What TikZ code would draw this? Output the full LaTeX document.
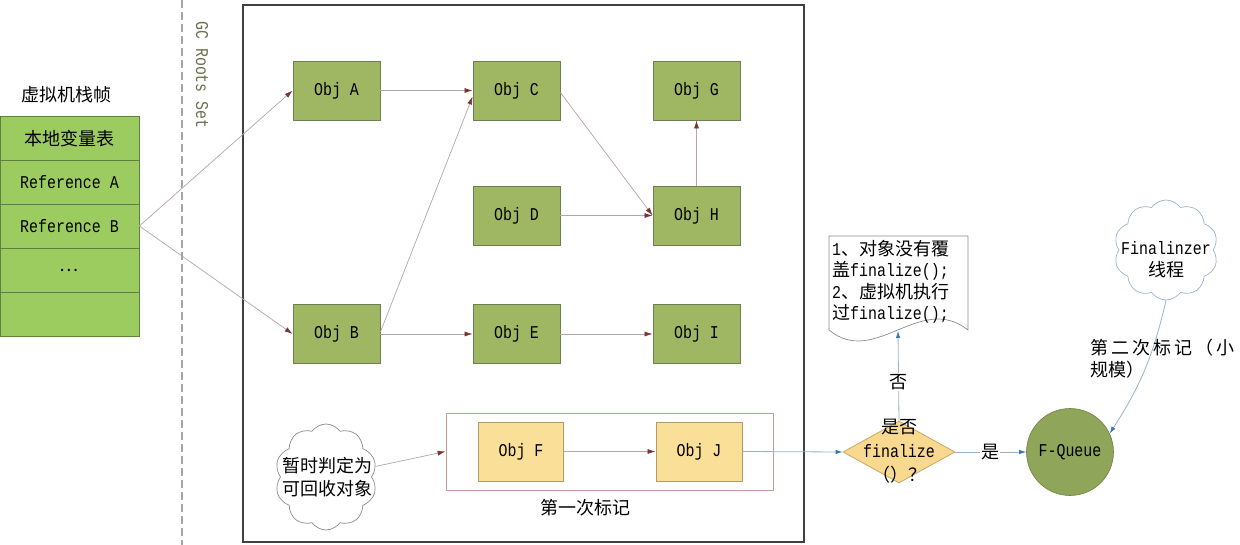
\documentclass[tikz,border=0pt]{standalone}
\usepackage{fontspec}
\setmainfont[FakeStretch=0.83]{Liberation Mono}
\newfontfamily\cjk{Noto Sans CJK SC}
\newcommand\zh[1]{{\cjk #1}}
\usetikzlibrary{shapes.geometric,shapes.symbols,arrows.meta}
\definecolor{stackgreen}{RGB}{156,204,96}
\definecolor{stackborder}{RGB}{95,127,63}
\definecolor{objgreen}{RGB}{159,183,98}
\definecolor{objborder}{RGB}{110,127,82}
\definecolor{yfill}{RGB}{250,223,153}
\definecolor{yborder}{RGB}{176,154,106}
\definecolor{dfill}{RGB}{249,217,143}
\definecolor{dborder}{RGB}{200,168,106}
\definecolor{fqfill}{RGB}{143,165,90}
\definecolor{fqborder}{RGB}{111,128,64}
\definecolor{redbox}{RGB}{201,154,154}
\definecolor{linegray}{RGB}{181,165,165}
\definecolor{arrowred}{RGB}{122,53,53}
\definecolor{blueline}{RGB}{152,178,207}
\definecolor{bluetip}{RGB}{58,117,181}
\definecolor{mainborder}{RGB}{64,64,64}
\definecolor{dashcol}{RGB}{166,166,166}
\definecolor{gctext}{RGB}{110,110,80}
\definecolor{cloudgray}{RGB}{140,140,140}
\definecolor{cloudblue}{RGB}{157,179,203}
\begin{document}
\begin{tikzpicture}[x=1pt,y=-1pt,
  every node/.append style={font=\fontsize{18}{20}\selectfont, text=black},
  cell/.style={draw=stackborder, fill=stackgreen, minimum width=139pt, minimum height=44pt, inner sep=0pt, line width=0.8pt},
  objbox/.style={draw=objborder, fill=objgreen, minimum width=87pt, minimum height=59pt, inner sep=0pt, line width=0.8pt},
  ybox/.style={draw=yborder, fill=yfill, minimum width=85pt, minimum height=59pt, inner sep=0pt, line width=0.8pt},
  redarrow/.style={draw=linegray, line width=0.7pt, -{Latex[length=8pt,width=5pt,color=arrowred]}},
  bluearrow/.style={draw=blueline, line width=0.8pt, -{Latex[length=7pt,width=4.5pt,color=bluetip]}},
  lbl/.style={fill=white, inner sep=1pt},
  cloudshape/.style={cloud, cloud puffs=10, cloud puff arc=110, inner sep=0pt, fill=white, line width=0.7pt}
]
\useasboundingbox (0,0) rectangle (1240,545);

% stack frame
\node (title) at (66,95) {\zh{虚拟机栈帧}};
\node[cell] (s1) at (69.5,138.5) {\zh{本地变量表}};
\node[cell] (s2) at (69.5,182) {Reference A};
\node[cell] (s3) at (69.5,226) {Reference B};
\node[cell] (s4) at (69.5,270) {\zh{…}};
\node[cell] (s5) at (69.5,314) {};

% GC roots divider
\coordinate (dtop) at (182,0);
\coordinate (dbot) at (182,545);
\draw[dashcol, line width=1.5pt, dash pattern=on 8pt off 4pt] (dtop) -- (dbot);
\node[rotate=-90, text=gctext] (gc) at (202,75) {GC Roots Set};

% main box
\node[draw=mainborder, line width=1.2pt, minimum width=561pt, minimum height=537pt, inner sep=0pt] (main) at (523.5,273.5) {};

% objects
\node[objbox] (A) at (336.5,90.5) {Obj A};
\node[objbox] (B) at (336.5,334) {Obj B};
\node[objbox] (C) at (516.5,90.5) {Obj C};
\node[objbox] (D) at (516.5,215.5) {Obj D};
\node[objbox] (E) at (516.5,334) {Obj E};
\node[objbox] (G) at (696.5,90.5) {Obj G};
\node[objbox] (H) at (696.5,215.5) {Obj H};
\node[objbox] (I) at (696.5,334) {Obj I};

\draw[redarrow] (s3.east) -- (A.west);
\draw[redarrow] (s3.east) -- (B.west);
\draw[redarrow] (A.east) -- (C.west);
\draw[redarrow] ([yshift=2pt]B.east) -- ([yshift=-6pt]C.west);
\draw[redarrow] (B.east) -- (E.west);
\draw[redarrow] (E.east) -- (I.west);
\draw[redarrow] ([yshift=-2pt]C.east) -- (H.west);
\draw[redarrow] (D.east) -- (H.west);
\draw[redarrow] (H.north) -- (G.south);

% first mark
\node[draw=redbox, line width=0.8pt, minimum width=327pt, minimum height=77pt, inner sep=0pt] (mark) at (609.5,451.5) {};
\node[ybox] (F) at (521,451.5) {Obj F};
\node[ybox, minimum width=86pt] (J) at (699,451.5) {Obj J};
\draw[redarrow] (F.east) -- (J.west);
\node (marklbl) at (585,508) {\zh{第一次标记}};

% left cloud
\node[cloudshape, draw=cloudgray, minimum width=102pt, minimum height=106pt] (c1) at (326,477) {};
\node[align=center, font=\fontsize{18}{23}\selectfont] (c1t) at (327,477) {\zh{暂时判定为}\\\zh{可回收对象}};
\draw[redarrow] (c1) -- (mark.west);

% decision
\node[diamond, draw=dborder, fill=dfill, line width=0.8pt, minimum width=112pt, minimum height=62pt, inner sep=0pt] (dia) at (899,452) {};
\node[align=center, font=\fontsize{18}{24}\selectfont] (diat) at (899,451) {\zh{是否}\\finalize\\\zh{（）？}};
\draw[bluearrow] (J.east) -- (dia.west);

% document shape
\draw[draw=cloudgray, line width=0.7pt, fill=white] (829,236) -- (968,236) -- (968,330)
  .. controls (920,292) and (875,368) .. (829,330) -- cycle;
\coordinate (docb) at (898,331);
\node[anchor=north west, align=left, inner sep=0pt, font=\fontsize{18}{21.5}\selectfont] (doct) at (832,240)
  {1\zh{、对象没有覆}\\\zh{盖}finalize();\\2\zh{、虚拟机执行}\\\zh{过}finalize();};
\draw[bluearrow] (dia.north) -- (docb);
\node[lbl] (no) at (898,382) {\zh{否}};

% F-Queue
\node[circle, draw=fqborder, fill=fqfill, line width=0.6pt, minimum size=87pt, inner sep=0pt] (fq) at (1070,452) {F-Queue};
\draw[bluearrow] (dia.east) -- (fq.west);
\node[lbl] (yes) at (990,452) {\zh{是}};

% Finalizer cloud
\node[cloudshape, draw=cloudblue, minimum width=104pt, minimum height=100pt] (c2) at (1166,250) {};
\node[align=center, font=\fontsize{18}{22}\selectfont] (c2t) at (1166,260) {Finalinzer\\\zh{线程}};
\draw[bluearrow] (c2.south) to[bend left=10] (fq.25);
\node[anchor=north west, align=left, inner sep=0pt, font=\fontsize{18}{21.5}\selectfont] (second) at (1090,339)
  {\zh{第\,二\,次\,标\,记\,（\,小}\\\zh{规模）}};
\end{tikzpicture}
\end{document}
